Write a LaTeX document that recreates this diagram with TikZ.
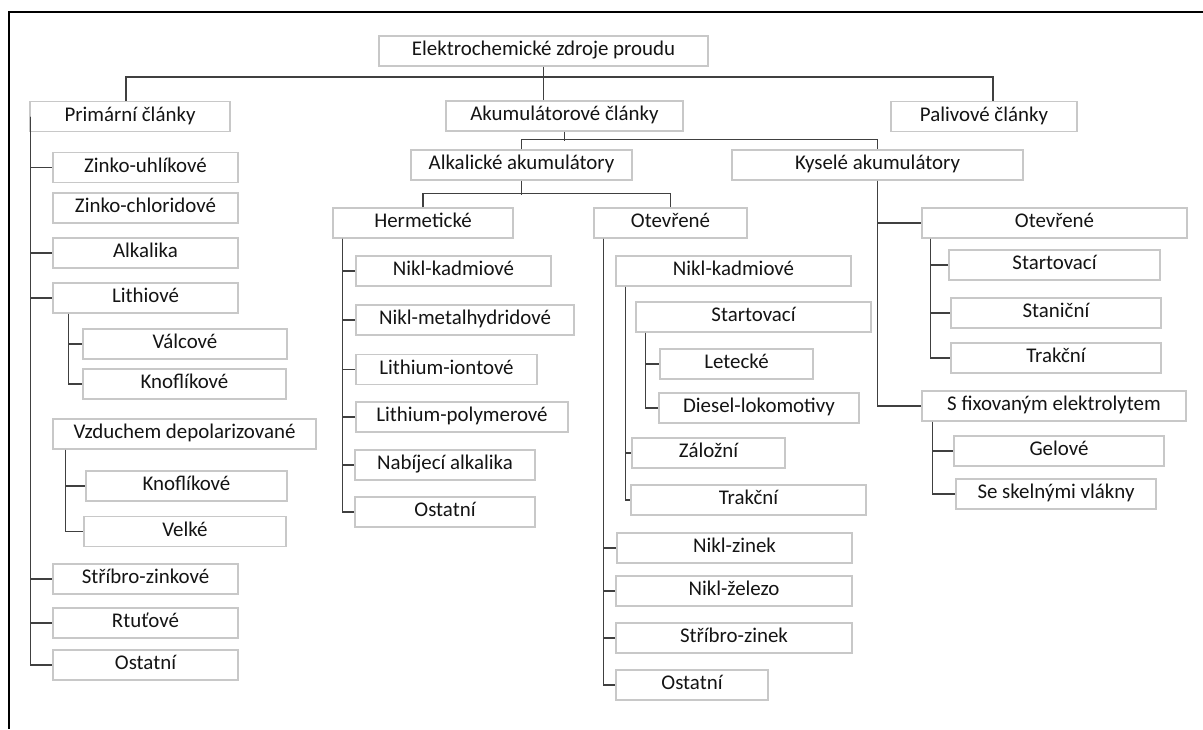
\documentclass[tikz,border=0pt]{standalone}
\usepackage{fontspec}
\setmainfont{Carlito}
\usepackage{tikz}

\definecolor{boxline}{HTML}{C8C8C8}
\definecolor{linegray}{HTML}{404040}
\definecolor{txt}{HTML}{141414}

\begin{document}
\begin{tikzpicture}[x=1pt, y=-1pt,
    box/.style={draw=boxline, line width=1.4pt, fill=white, text=txt,
      minimum width=#1, minimum height=30pt, inner sep=0pt,
      text height=13pt, text depth=4pt, font=\fontsize{20.9}{24}\selectfont},
    conn/.style={draw=linegray, line width=1.6pt}]
    \useasboundingbox (0,0) rectangle (1203,729);
    \draw[line width=2.2pt] (1203,12) -- (9,12) -- (9,729);

    \node[box=329] (root) at (543.5,51) {Elektrochemické zdroje proudu};
    \node[box=200] (primarni) at (130,116.5) {Primární články};
    \node[box=237] (akum) at (564.5,116) {Akumulátorové články};
    \node[box=186] (palivove) at (984,116.5) {Palivové články};
    \node[box=221] (alk) at (521.5,165) {Alkalické akumulátory};
    \node[box=291] (kys) at (877.5,165) {Kyselé akumulátory};
    \node[box=180] (herm) at (423,223) {Hermetické};
    \node[box=153] (otev) at (670.5,223) {Otevřené};

    \node[box=185] (zu) at (145.5,167.5) {Zinko-uhlíkové};
    \node[box=185] (zc) at (145.5,208) {Zinko-chloridové};
    \node[box=185] (alka) at (145.5,253) {Alkalika};
    \node[box=185] (lith) at (145.5,298) {Lithiové};
    \node[box=204] (valc) at (185,344) {Válcové};
    \node[box=203] (knof1) at (184.5,384) {Knoflíkové};
    \node[box=263] (vzd) at (184.5,434) {Vzduchem depolarizované};
    \node[box=201] (knof2) at (186.5,486) {Knoflíkové};
    \node[box=202] (velke) at (185,531.5) {Velké};
    \node[box=185] (strz) at (145.5,579) {Stříbro-zinkové};
    \node[box=185] (rtut) at (145.5,623) {Rtuťové};
    \node[box=185] (post) at (145.5,665) {Ostatní};

    \node[box=195] (hnk) at (453.5,271) {Nikl-kadmiové};
    \node[box=218] (hnm) at (465,320) {Nikl-metalhydridové};
    \node[box=181] (hli) at (446.5,369.5) {Lithium-iontové};
    \node[box=212] (hlp) at (462,417) {Lithium-polymerové};
    \node[box=180] (hna) at (445,465) {Nabíjecí alkalika};
    \node[box=180] (hos) at (445,512) {Ostatní};

    \node[box=235] (onk) at (733.5,271) {Nikl-kadmiové};
    \node[box=235] (ost) at (753.5,317) {Startovací};
    \node[box=153] (olet) at (736.5,364) {Letecké};
    \node[box=200] (odie) at (759,408) {Diesel-lokomotivy};
    \node[box=153] (ozal) at (708.5,453) {Záložní};
    \node[box=235] (otr) at (748.5,500) {Trakční};
    \node[box=235] (onz) at (734.5,548) {Nikl-zinek};
    \node[box=236] (onze) at (734,591) {Nikl-železo};
    \node[box=236] (osz) at (734,638) {Stříbro-zinek};
    \node[box=152] (oos) at (692,685) {Ostatní};

    \node[box=265] (kotev) at (1054.5,223) {Otevřené};
    \node[box=211] (kst) at (1054.5,265) {Startovací};
    \node[box=210] (ksn) at (1056,313) {Staniční};
    \node[box=210] (ktr) at (1056,358) {Trakční};
    \node[box=264] (sfix) at (1054,406) {S fixovaným elektrolytem};
    \node[box=210] (kgel) at (1059,451) {Gelové};
    \node[box=200] (kskl) at (1056,494) {Se skelnými vlákny};

    \draw[conn] (root.south) -- (root.south |- akum.north);
    \draw[conn] ([xshift=-4pt]primarni.north) -- ++(0,-24) -| ([xshift=9pt]palivove.north);
    \draw[conn] (akum.south) -- ++(0,9);
    \draw[conn] (alk.north) -- ++(0,-10) -| (kys.north);
    \draw[conn] (alk.south) -- ++(0,14);
    \draw[conn] (herm.north) -- ++(0,-14) -| (otev.north);

    \foreach \c in {zu,alka,lith,strz,rtut,post}
      \draw[conn] ([xshift=1pt]primarni.west) |- (\c.west);
    \foreach \c in {valc,knof1}
      \draw[conn] ([xshift=16pt]lith.south west) |- (\c.west);
    \foreach \c in {knof2,velke}
      \draw[conn] ([xshift=13pt]vzd.south west) |- (\c.west);
    \foreach \c in {hnk,hnm,hli,hlp,hna,hos}
      \draw[conn] ([xshift=10pt]herm.south west) |- (\c.west);
    \foreach \c in {onz,onze,osz,oos}
      \draw[conn] ([xshift=10pt]otev.south west) |- (\c.west);
    \foreach \c in {ozal,otr}
      \draw[conn] ([xshift=10pt]onk.south west) |- (\c.west);
    \foreach \c in {olet,odie}
      \draw[conn] ([xshift=10pt]ost.south west) |- (\c.west);
    \foreach \c in {kotev,sfix}
      \draw[conn] (kys.south) |- (\c.west);
    \foreach \c in {kst,ksn,ktr}
      \draw[conn] ([xshift=9pt]kotev.south west) |- (\c.west);
    \foreach \c in {kgel,kskl}
      \draw[conn] ([xshift=11pt]sfix.south west) |- (\c.west);
  \end{tikzpicture}
\end{document}
